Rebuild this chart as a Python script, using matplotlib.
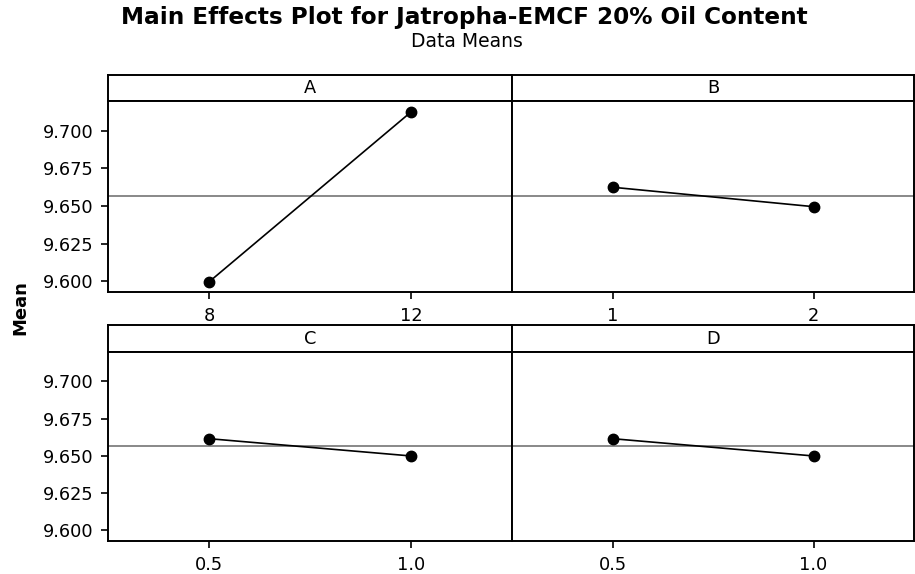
import matplotlib
matplotlib.use("Agg")
import matplotlib.pyplot as plt

# ---- data ----
factors = ["A", "B", "C", "D"]
levels_A = [8, 12]
levels_B = [1, 2]
levels_C = [0.5, 1.0]
levels_D = [0.5, 1.0]
labels_A = ["8", "12"]
labels_B = ["1", "2"]
labels_C = ["0.5", "1.0"]
labels_D = ["0.5", "1.0"]
means_A = [9.5995, 9.7124]
means_B = [9.6624, 9.6495]
means_C = [9.6615, 9.6499]
means_D = [9.6615, 9.6499]
grand_mean = 9.6564
yticks = [9.600, 9.625, 9.650, 9.675, 9.700]
ytick_labels = ["9.600", "9.625", "9.650", "9.675", "9.700"]
title = "Main Effects Plot for Jatropha-EMCF 20% Oil Content"
subtitle = "Data Means"
ylabel = "Mean"

levels = [levels_A, levels_B, levels_C, levels_D]
labels = [labels_A, labels_B, labels_C, labels_D]
means = [means_A, means_B, means_C, means_D]

W, H = 915, 574
fig = plt.figure(figsize=(W / 100, H / 100), dpi=100)
plt.rcParams["font.family"] = ["DejaVu Sans"]

def box(x0, y0, x1, y1):
    # pixel coords (top-left origin) -> figure fraction
    return [x0 / W, 1 - y1 / H, (x1 - x0) / W, (y1 - y0) / H]

left, mid, right = 108, 512, 914
rows = [(75, 101, 292), (325, 352, 541)]
ylim = (9.5928, 9.7197)
lw_frame = 1.4
fs = 12.8

for i, fac in enumerate(factors):
    r, c = divmod(i, 2)
    st, at, ab = rows[r]
    x0 = left if c == 0 else mid
    x1 = mid if c == 0 else right
    # strip
    sax = fig.add_axes(box(x0, st, x1, at))
    sax.set_xticks([]); sax.set_yticks([])
    for s in sax.spines.values():
        s.set_linewidth(lw_frame); s.set_color("black")
    sax.text(0.5, 0.5, fac, ha="center", va="center", fontsize=fs,
             transform=sax.transAxes)
    # panel
    ax = fig.add_axes(box(x0, at, x1, ab))
    lv = levels[i]
    span = lv[1] - lv[0]
    ax.set_xlim(lv[0] - 0.5 * span, lv[1] + 0.5 * span)
    ax.set_ylim(*ylim)
    ax.axhline(grand_mean, color="#7f7f7f", lw=1.3, zorder=1)
    ax.plot(lv, means[i], color="black", lw=1.2, marker="o", ms=7.5,
            markerfacecolor="black", zorder=3)
    ax.set_xticks(lv)
    ax.set_xticklabels(labels[i], fontsize=fs)
    ax.tick_params(axis="x", direction="out", length=5, width=1.2, pad=5.5)
    if c == 0:
        ax.set_yticks(yticks)
        ax.set_yticklabels(ytick_labels, fontsize=fs)
        ax.tick_params(axis="y", direction="out", length=5, width=1.2, pad=5.5)
    else:
        ax.set_yticks([])
    for s in ax.spines.values():
        s.set_linewidth(lw_frame); s.set_color("black")

fig.text(464 / W, 1 - 24 / H, title, ha="center", va="baseline",
         fontsize=16.7, fontweight="bold")
fig.text(467 / W, 1 - 47 / H, subtitle, ha="center", va="baseline",
         fontsize=13.5)
fig.text(20 / W, 1 - 308 / H, ylabel, ha="center", va="center",
         rotation=90, fontsize=13, fontweight="bold")

fig.savefig("out.png", dpi=100)
